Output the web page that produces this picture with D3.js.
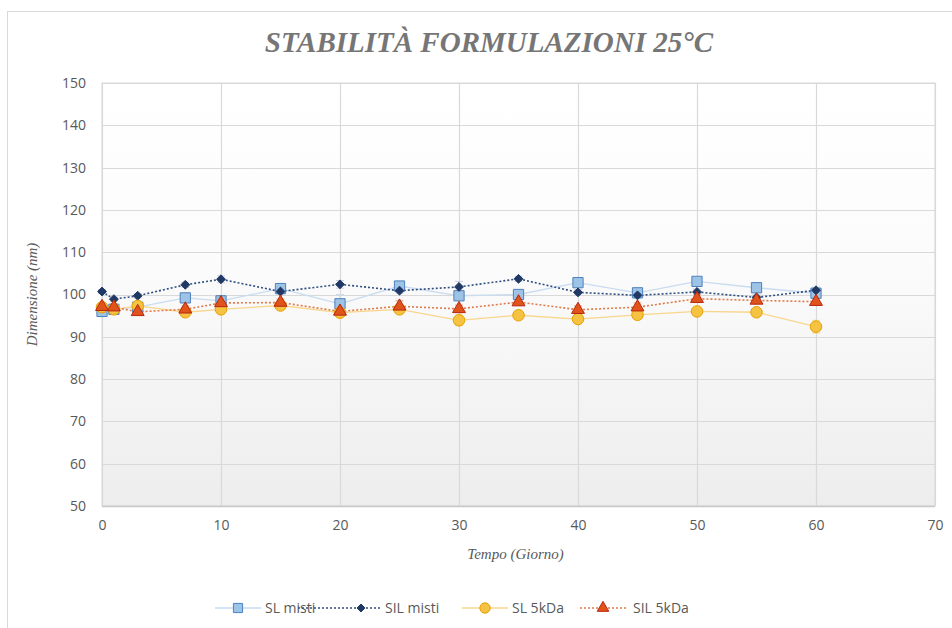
<!DOCTYPE html>
<html>
<head>
<meta charset="utf-8">
<script src="https://cdn.jsdelivr.net/npm/d3@7"></script>
<style>
  html, body { margin: 0; padding: 0; background: #fff; }
  svg { display: block; }
</style>
</head>
<body>
<svg id="chart" width="952" height="628"></svg>
<script>
// Sampling days (giorni)
const days = [0, 1, 3, 7, 10, 15, 20, 25, 30, 35, 40, 45, 50, 55, 60];

// Mean particle size (nm) per formulation
const slMisti   = [96.0, 96.5, 97.0, 99.2, 98.5, 101.4, 97.8, 102.0, 99.7, 100.0, 102.8, 100.4, 103.1, 101.6, 100.3];
const silMisti  = [100.7, 98.9, 99.7, 102.3, 103.6, 100.7, 102.4, 100.9, 101.8, 103.7, 100.5, 99.8, 100.6, 99.3, 101.0];
const sl5kDa    = [97.0, 96.5, 97.3, 95.8, 96.5, 97.4, 95.7, 96.5, 93.9, 95.1, 94.2, 95.2, 96.0, 95.8, 92.4];
const sil5kDa   = [97.1, 97.0, 95.9, 96.5, 98.0, 98.1, 96.0, 97.2, 96.6, 98.2, 96.4, 97.0, 99.0, 98.6, 98.3];

// Standard deviations (nm)
const slMistiErr  = [0.8, 0.6, 0.7, 0.8, 0.9, 0.8, 2.2, 0.9, 1.0, 0.8, 0.9, 0.7, 1.0, 0.8, 0.9];
const silMistiErr = [0.5, 0.5, 0.5, 0.6, 0.8, 0.6, 0.9, 0.6, 1.3, 0.6, 0.7, 0.6, 0.7, 0.6, 0.7];
const sl5kDaErr   = [0.7, 0.6, 0.7, 0.8, 0.8, 0.7, 0.8, 1.0, 1.2, 0.9, 1.1, 0.9, 0.8, 0.9, 1.5];
const sil5kDaErr  = [0.8, 0.7, 0.7, 0.8, 0.9, 0.8, 0.8, 1.3, 0.9, 0.8, 0.9, 1.0, 0.9, 0.8, 0.9];

const seriesNames = ["SL misti", "SIL misti", "SL 5kDa", "SIL 5kDa"];
const xTicks = [0, 10, 20, 30, 40, 50, 60, 70];
const yTicks = [50, 60, 70, 80, 90, 100, 110, 120, 130, 140, 150];

const titleText = "STABILITÀ FORMULAZIONI 25°C";
const xTitle = "Tempo (Giorno)";
const yTitle = "Dimensione (nm)";

const series = [
  { name: seriesNames[0], values: slMisti,  err: slMistiErr,  symbol: d3.symbolSquare,   size: 105, fill: "#9dc3e6", stroke: "#4f81bd", line: "#c9dcf0", dash: null,  errColor: "#c9dcf0" },
  { name: seriesNames[1], values: silMisti, err: silMistiErr, symbol: d3.symbolDiamond2, size: 50,  fill: "#1f3864", stroke: "#1f3864", line: "#2f4f7f", dash: "2,2", errColor: "#c9cfe0" },
  { name: seriesNames[2], values: sl5kDa,   err: sl5kDaErr,   symbol: d3.symbolCircle,   size: 105, fill: "#f5c242", stroke: "#e6a100", line: "#f8d68c", dash: null,  errColor: "#f5d98f" },
  { name: seriesNames[3], values: sil5kDa,  err: sil5kDaErr,  symbol: d3.symbolTriangle, size: 72,  fill: "#e0541b", stroke: "#b8260f", line: "#e07a4a", dash: "2,2", errColor: "#e9a383" }
];

const svg = d3.select("#chart");
const W = 952, H = 628;
const m = { left: 102, right: 935, top: 83, bottom: 506 };

// Outer chart frame
svg.append("rect").attr("x", 7.5).attr("y", 11.5).attr("width", W - 6).attr("height", H)
  .attr("fill", "#fff").attr("stroke", "#d9d9d9");

const x = d3.scaleLinear().domain([0, 70]).range([m.left, m.right]);
const y = d3.scaleLinear().domain([50, 150]).range([m.bottom, m.top]);

// Plot area with vertical gradient
const defs = svg.append("defs");
const grad = defs.append("linearGradient").attr("id", "plotBg").attr("x1", 0).attr("y1", 0).attr("x2", 0).attr("y2", 1);
grad.append("stop").attr("offset", "0%").attr("stop-color", "#ffffff");
grad.append("stop").attr("offset", "45%").attr("stop-color", "#fbfbfb");
grad.append("stop").attr("offset", "100%").attr("stop-color", "#ededed");

svg.append("rect").attr("x", m.left).attr("y", m.top)
  .attr("width", m.right - m.left).attr("height", m.bottom - m.top)
  .attr("fill", "url(#plotBg)").attr("stroke", "#d9d9d9");

// Gridlines
svg.append("g").selectAll("line").data(yTicks).join("line")
  .attr("x1", m.left).attr("x2", m.right)
  .attr("y1", d => Math.round(y(d)) + 0.5).attr("y2", d => Math.round(y(d)) + 0.5)
  .attr("stroke", "#d9d9d9").attr("stroke-width", 1.2);
svg.append("g").selectAll("line").data(xTicks).join("line")
  .attr("y1", m.top).attr("y2", m.bottom)
  .attr("x1", d => Math.round(x(d)) + 0.5).attr("x2", d => Math.round(x(d)) + 0.5)
  .attr("stroke", "#d9d9d9").attr("stroke-width", 1.2);

// Axis line at the bottom
svg.append("line").attr("x1", m.left).attr("x2", m.right)
  .attr("y1", m.bottom + 0.5).attr("y2", m.bottom + 0.5)
  .attr("stroke", "#c8c8c8").attr("stroke-width", 1.5);

// Axes (labels only)
const tickFont = "'Open Sans', 'DejaVu Sans', sans-serif";
const yAxis = svg.append("g").attr("transform", `translate(${m.left},0)`)
  .call(d3.axisLeft(y).tickValues(yTicks).tickSize(0).tickPadding(16));
const xAxis = svg.append("g").attr("transform", `translate(0,${m.bottom})`)
  .call(d3.axisBottom(x).tickValues(xTicks).tickSize(0).tickPadding(14));
[yAxis, xAxis].forEach(a => {
  a.select(".domain").remove();
  a.selectAll("text").attr("fill", "#595959").style("font-family", tickFont).style("font-size", "14px");
});

// Title
svg.append("text").attr("x", 489).attr("y", 52).attr("text-anchor", "middle")
  .style("font-family", "'Liberation Serif', 'DejaVu Serif', serif")
  .style("font-style", "italic").style("font-weight", "bold").style("font-size", "29px")
  .attr("fill", "#767676").text(titleText);

// Axis titles
svg.append("text").attr("x", (m.left + m.right) / 2 - 3).attr("y", 559).attr("text-anchor", "middle")
  .style("font-family", "'Liberation Serif', 'DejaVu Serif', serif").style("font-style", "italic")
  .style("font-size", "15px").attr("fill", "#595959").text(xTitle);
svg.append("text").attr("transform", `translate(37,${(m.top + m.bottom) / 2}) rotate(-90)`)
  .attr("text-anchor", "middle")
  .style("font-family", "'Liberation Serif', 'DejaVu Serif', serif").style("font-style", "italic")
  .style("font-size", "15px").attr("fill", "#595959").text(yTitle);

// Series: lines, error bars, markers
const line = d3.line().x((d, i) => x(days[i])).y(d => y(d));
const gSeries = svg.append("g");
series.forEach(s => {
  gSeries.append("path").attr("d", line(s.values)).attr("fill", "none")
    .attr("stroke", s.line).attr("stroke-width", s.dash ? 1.6 : 1.3)
    .attr("stroke-dasharray", s.dash);
});
series.forEach(s => {
  const eg = gSeries.append("g");
  s.values.forEach((v, i) => {
    const cx = x(days[i]);
    const y0 = y(v - s.err[i]), y1 = y(v + s.err[i]);
    eg.append("line").attr("x1", cx).attr("x2", cx).attr("y1", y0).attr("y2", y1).attr("stroke", s.errColor).attr("stroke-width", 1);
    [y0, y1].forEach(yy => eg.append("line").attr("x1", cx - 4).attr("x2", cx + 4).attr("y1", yy).attr("y2", yy).attr("stroke", s.errColor).attr("stroke-width", 1));
  });
});
series.forEach(s => {
  const sym = d3.symbol().type(s.symbol).size(s.size);
  gSeries.append("g").selectAll("path").data(s.values).join("path")
    .attr("transform", (d, i) => `translate(${x(days[i])},${y(d)})`)
    .attr("d", sym).attr("fill", s.fill).attr("stroke", s.stroke).attr("stroke-width", 1);
});

// Legend
const legendX = [215, 298, 462, 580];
const legendTextX = [265, 385, 512, 633];
const ly = 608;
series.forEach((s, i) => {
  const lx = legendX[i];
  const lineLen = i === 1 ? 84 : 46;
  svg.append("line").attr("x1", lx).attr("x2", lx + lineLen).attr("y1", ly).attr("y2", ly)
    .attr("stroke", s.line).attr("stroke-width", s.dash ? 1.6 : 1.3).attr("stroke-dasharray", s.dash);
  const mx = i === 1 ? 361 : lx + 23;
  svg.append("path").attr("transform", `translate(${mx},${ly})`)
    .attr("d", d3.symbol().type(s.symbol).size(s.size * 0.8)())
    .attr("fill", s.fill).attr("stroke", s.stroke);
  svg.append("text").attr("x", legendTextX[i]).attr("y", ly + 5)
    .style("font-family", tickFont).style("font-size", "14px").attr("fill", "#595959").text(s.name);
});
</script>
</body>
</html>
